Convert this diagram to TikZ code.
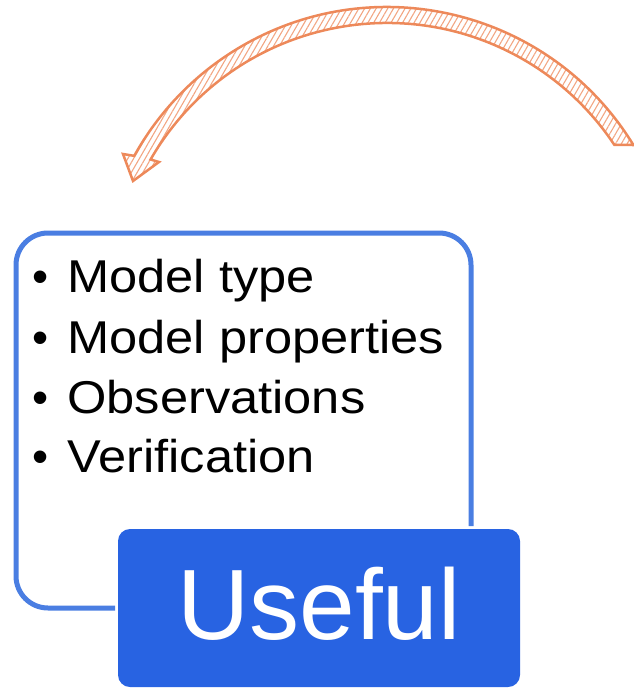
\documentclass[tikz,border=0pt]{standalone}
\usepackage{fontspec}
\setmainfont{Liberation Sans}
\usetikzlibrary{patterns.meta,calc}
\definecolor{arroworange}{RGB}{237,137,90}
\definecolor{frameblue}{RGB}{74,126,226}
\definecolor{tagblue}{RGB}{40,99,226}
\tikzset{
  listframe/.style={draw=frameblue, line width=5pt, rounded corners=32pt},
  tagbox/.style={fill=tagblue, rounded corners=12pt},
  bulletmark/.style={anchor=base, inner sep=0pt, font=\fontsize{46}{50}\selectfont},
  itemtext/.style={anchor=base west, inner sep=0pt, xscale=1.1, transform shape,
    font=\fontsize{46}{50}\selectfont},
  tagtext/.style={anchor=base, inner sep=0pt, text=white, font=\fontsize{100}{110}\selectfont},
  looparrow/.style={draw=arroworange, line width=2.5pt, line join=miter,
    pattern={Lines[angle=60, distance=5pt, line width=1.1pt]},
    pattern color=arroworange!75!white},
}
\begin{document}
\begin{tikzpicture}[x=1pt, y=-1pt]
  \useasboundingbox (0,0) rectangle (633,690);

  % curved feedback arrow: a circular band around (387,296) with a head on the left
  \coordinate (hub) at (387,296);
  \draw[looparrow]
    (hub) ++(-31.5:289) arc[start angle=-31.5, end angle=-151, radius=289]
    -- (123,154) -- (133,181) -- (159,162)
    -- ($(hub)+(-150:273)$) arc[start angle=-150, end angle=-33.6, radius=273]
    -- cycle;

  % open frame around the list
  \draw[listframe] (115,608) -- (16,608) -- (16,233) -- (471,233) -- (471,526);

  % list items
  \node[bulletmark] (b1) at (41,292) {•};
  \node[bulletmark] (b2) at (41,353) {•};
  \node[bulletmark] (b3) at (41,413) {•};
  \node[bulletmark] (b4) at (41,472) {•};
  \node[itemtext] (i1) at (67,292) {Model type};
  \node[itemtext] (i2) at (67,353) {Model properties};
  \node[itemtext] (i3) at (67,413) {Observations};
  \node[itemtext] (i4) at (67,472) {Verification};

  % label box
  \fill[tagbox] (118,529) rectangle (520,687);
  \node[tagtext] (useful) at (319,639) {Useful};
\end{tikzpicture}
\end{document}
